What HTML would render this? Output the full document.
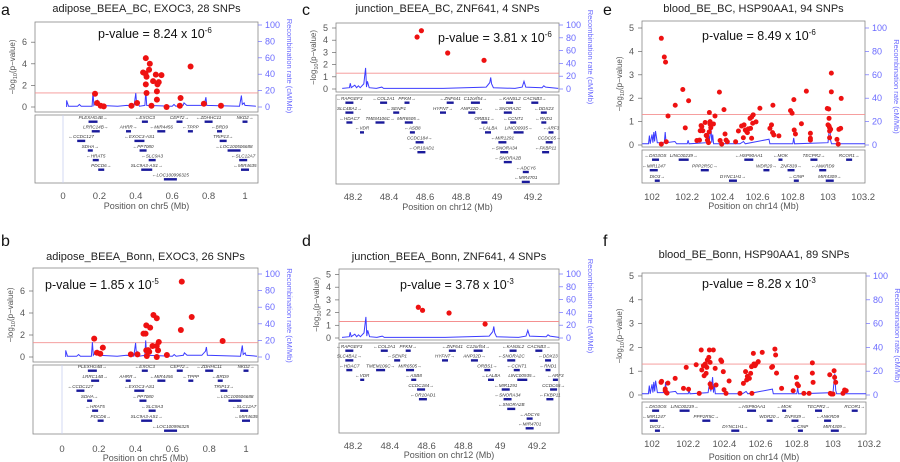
<!DOCTYPE html>
<html><head><meta charset="utf-8">
<style>
html,body{margin:0;padding:0;background:#fff;}
svg{display:block;font-family:"Liberation Sans",sans-serif;}
</style></head>
<body>
<svg id="fig" width="900" height="462" viewBox="0 0 900 462"></svg>
<script>
// ---------- DATA ----------
const chr5Ticks=[0,0.2,0.4,0.6,0.8,1];
const chr12Ticks=[48.2,48.4,48.6,48.8,49,49.2];
const chr14Ticks=[102,102.2,102.4,102.6,102.8,103,103.2];
const chr12TickLabels=["48.2","48.4","48.6","48.8","49","49.2"];
const chr14TickLabels=["102","102.2","102.4","102.6","102.8","103","103.2"];
const chr5TickLabels=["0","0.2","0.4","0.6","0.8","1"];

const aPos=[0.176,0.187,0.207,0.224,0.376,0.407,0.455,0.440,0.453,0.459,0.455,0.459,0.477,0.473,0.495,0.510,0.519,0.526,0.541,0.516,0.516,0.486,0.569,0.642,0.646,0.701,0.774,0.868];
const aLogP=[1.23,0.37,0.12,0.06,0.12,0.37,4.52,3.2,3.1,2.8,2.1,1.3,4.0,3.45,2.4,3.0,2.1,2.3,2.95,1.45,0.68,0.12,0.0,0.12,0.83,3.75,0.30,0.12];

const bPos=[0.175,0.19,0.208,0.222,0.374,0.41,0.443,0.454,0.458,0.479,0.497,0.515,0.458,0.461,0.474,0.492,0.515,0.522,0.526,0.515,0.57,0.646,0.705,0.651,0.873,0.468];
const bLogP=[1.67,0.39,0.3,0.85,0.24,0.24,2.12,2.12,2.88,2.67,3.82,3.52,0.6,0.09,0.48,1.0,1.0,0.6,1.36,0.0,0.18,2.45,3.64,6.85,1.45,0.62];

const cPos=[48.556,48.58,48.726,48.928];
const cLogP=[4.26,4.78,2.95,2.35];
const dPos=[48.555,48.578,48.722,48.918];
const dLogP=[2.42,2.18,1.97,1.1];

const ePos=[102.053,102.070,102.077,102.091,102.132,102.175,102.189,102.208,102.053,102.081,102.255,102.270,102.274,102.279,102.283,102.289,102.302,102.308,102.311,102.315,102.321,102.326,102.330,102.330,102.325,102.334,102.349,102.358,102.383,102.387,102.396,102.409,102.415,102.421,102.428,102.475,102.491,102.509,102.519,102.523,102.530,102.538,102.542,102.547,102.557,102.560,102.566,102.572,102.566,102.575,102.591,102.613,102.670,102.679,102.685,102.692,102.687,102.721,102.787,102.796,102.806,102.808,102.815,102.849,102.877,102.900,102.900,102.900,102.996,103.004,103.006,103.006,103.000,103.009,103.009,103.009,103.015,103.019,103.019,103.051,103.058,103.062,103.075,103.072];
const eLogP=[4.56,3.76,3.54,1.24,1.70,2.37,0.73,1.89,0.04,0.14,0.19,0.21,0.61,0.83,0.79,0.61,0.96,0.41,0.39,0.21,0.10,1.39,1.00,0.89,0.56,0.74,0.90,1.24,2.26,0.19,0.04,1.51,0.47,0.21,0.14,0.14,0.60,0.81,0.31,0.86,0.64,0.57,0.53,0.69,1.14,0.71,0.29,0.93,1.19,1.29,0.99,1.57,0.71,0.86,0.53,0.43,1.70,0.39,1.47,1.36,1.94,0.64,0.47,0.91,2.30,0.50,0.29,0.21,1.56,1.54,1.14,0.81,0.86,0.74,0.60,0.31,0.67,3.07,2.27,0.24,0.04,0.67,1.99,0.71];

const fPos=[102.050,102.053,102.073,102.073,102.079,102.083,102.088,102.128,102.174,102.189,102.202,102.244,102.261,102.272,102.275,102.284,102.294,102.288,102.299,102.303,102.306,102.314,102.317,102.321,102.321,102.327,102.339,102.349,102.354,102.380,102.385,102.394,102.398,102.409,102.426,102.486,102.505,102.517,102.523,102.527,102.538,102.545,102.550,102.552,102.560,102.563,102.569,102.574,102.587,102.609,102.661,102.666,102.679,102.683,102.688,102.716,102.780,102.798,102.802,102.809,102.839,102.868,102.886,102.886,102.890,102.982,102.985,102.991,103.000,103.006,103.009,103.015,103.055,103.064,103.073];
const fLogP=[0.53,0.57,0.25,0.18,0.11,0.08,0.50,0.70,0.28,1.16,0.24,1.27,0.07,1.89,1.05,1.23,1.30,0.81,0.91,1.16,1.47,1.58,1.89,1.37,0.46,0.32,1.89,1.12,0.42,1.47,1.41,0.98,0.22,0.07,0.59,0.07,0.49,0.98,0.63,0.78,0.70,0.91,1.19,0.07,1.75,1.30,1.23,1.30,1.40,1.79,1.16,1.19,1.93,1.68,0.92,0.28,0.18,0.74,0.46,0.39,0.07,0.07,1.35,0.92,0.53,0.85,0.07,0.04,0.04,1.02,0.74,0.53,0.07,0.21,0.18];

const chr5RecPos=[0.02,0.02,0.03,0.08,0.09,0.1,0.16,0.165,0.17,0.19,0.2,0.3,0.35,0.39,0.40,0.405,0.41,0.42,0.45,0.455,0.46,0.6,0.61,0.62,0.66,0.665,0.68,0.76,0.78,0.785,0.79,0.97,0.98,0.985,0.995,1.0,1.06];
const chr5RecRate=[0,8,1,1,3,1,1,18,2,8,2,1,2,1,17,2,6,1,2,20,2,1,3,1,2,5,2,2,7,12,2,1,14,3,5,2,1];
const chr12RecPos=[48.14,48.18,48.185,48.19,48.21,48.22,48.23,48.24,48.26,48.27,48.275,48.28,48.29,48.33,48.36,48.37,48.5,48.7,48.94,48.96,48.965,48.97,48.98,49.1,49.14,49.15,49.16,49.25,49.26,49.27,49.34];
const chr12RecRate=[1,2,9,2,6,2,5,2,8,33,3,12,2,1,3,1,1,1,3,10,18,8,2,1,3,12,3,2,5,3,1];
const chr14RecPos=[101.945,101.98,101.985,101.99,102.0,102.005,102.01,102.015,102.02,102.03,102.07,102.075,102.08,102.13,102.14,102.2,102.205,102.21,102.31,102.32,102.325,102.33,102.335,102.34,102.345,102.35,102.5,102.52,102.53,102.665,102.67,102.77,102.8,102.805,102.81,103.0,103.005,103.01,103.015,103.02,103.1,103.21];
const chr14RecRate=[1,1,8,1,9,2,11,3,12,2,2,11,2,3,1,1,4,1,2,12,3,8,15,2,9,1,1,3,1,5,1,1,1,6,1,2,10,18,4,1,1,1];

const chr5Genes=[["PLEXHG4B→",0.165,0],["←EXOC3",0.45,0],["CEP72→",0.64,0],["←ZDHHC11",0.80,0],["NKD2→",1.0,0],
["LRRC14B→",0.18,1],["AHRR→",0.36,1],["←MIR4456",0.54,1],["←TPPP",0.70,1],["←BRD9",0.86,1],
["←CCDC127",0.10,2],["←EXOC3-AS1",0.42,2],["TRIP13→",0.88,2],
["SDHA→",0.15,3],["←PP7080",0.44,3],["←LOC100506688",0.94,3],
["←HRAT5",0.18,4],["←SLC9A3",0.49,4],["←SLC12A7",0.99,4],
["PDCD6→",0.21,5],["SLC9A3-AS1→",0.46,5],["←MIR4635",1.0,5],
["←LOC100996325",0.59,6]];
const chr12Genes=[["←RAPGEF3",48.18,0],["←COL2A1",48.37,0],["PFKM→",48.50,0],["←ZNF641",48.74,0],["C12orf54→",48.88,0],["←KANSL2",49.07,0],["CACNB3→",49.21,0],
["SLC4BA1→",48.18,1],["←SENP1",48.44,1],["HYFNT→",48.70,1],["ANP32D→",48.86,1],["←SNORA2C",49.06,1],["←DDX23",49.26,1],
["←HDAC7",48.18,2],["TMEM106C→",48.35,2],["MIR6505→",48.51,2],["ORBS1→",48.93,2],["←CCNT1",49.09,2],["←RND1",49.26,2],
["←VDR",48.25,3],["←ASB8",48.53,3],["←LALBA",48.95,3],["LINC00935→",49.12,3],["←ARF3",49.30,3],
["CCDC184→",48.57,4],["←MIR1291",49.03,4],["CCDC65→",49.29,4],
["←OR10AD1",48.58,5],["←SNORA34",49.04,5],["←FKBP11",49.27,5],
["←SNORA2B",49.06,6],["←ADCY6",49.16,7],["←MIR4701",49.16,8]];
const chr14Genes=[["←DIO3OS",102.02,0],["LINC00239→",102.18,0],["←HSP90AA1",102.55,0],["←MOK",102.73,0],["TECPR2→",102.92,0],["RCOR1→",103.12,0],
["←MIR1247",102.01,1],["PPP2R5C→",102.30,1],["WDR20→",102.65,1],["ZNF839→",102.79,1],["←ANKRD9",102.97,1],
["DIO3→",102.03,2],["DYNC1H1→",102.46,2],["←CINP",102.82,2],["MIR4309→",103.01,2]];

// ---------- LAYOUT (pixel geometry) ----------
const panels=[
 {id:"a",letter:[1,15],title:"adipose_BEEA_BC, EXOC3, 28 SNPs",titleY:12,L:35,R:258,T:22,B:112,GB:183,xv0:0,xp0:63,xv1:1,xp1:245,y0:107,ppu:10.8,yTicks:[0,2,4,6],rTop:25,tickY:199,xlabY:209,chr:"chr5",pv:["8.24","-6"],pvX:98,pvY:38,pos:aPos,lp:aLogP,rp:chr5RecPos,rr:chr5RecRate,genes:chr5Genes,rowY0:119,rowDy:9.6,xt:chr5Ticks,xtl:chr5TickLabels,zeroLine:true,r:3},
 {id:"b",letter:[1,246],title:"adipose_BEEA_Bonn, EXOC3, 26 SNPs",titleY:260,L:33,R:258,T:268,B:362,GB:434,xv0:0,xp0:62,xv1:1,xp1:246,y0:357,ppu:11,yTicks:[0,2,4,6],rTop:274,tickY:452,xlabY:461,chr:"chr5",pv:["1.85","-5"],pvX:45,pvY:289,pos:bPos,lp:bLogP,rp:chr5RecPos,rr:chr5RecRate,genes:chr5Genes,rowY0:368,rowDy:10,xt:chr5Ticks,xtl:chr5TickLabels,zeroLine:true,r:3},
 {id:"c",letter:[302,15],title:"junction_BEEA_BC, ZNF641, 4 SNPs",titleY:12,L:336,R:559,T:23,B:92,GB:184,xv0:48.2,xp0:353,xv1:49.2,xp1:533,y0:89,ppu:12.2,yTicks:[0,1,2,3,4,5],rTop:25,tickY:200,xlabY:210,chr:"chr12",pv:["3.81","-6"],pvX:438,pvY:42,pos:cPos,lp:cLogP,rp:chr12RecPos,rr:chr12RecRate,genes:chr12Genes,rowY0:100,rowDy:9.9,xt:chr12Ticks,xtl:chr12TickLabels,zeroLine:false,r:2.6},
 {id:"d",letter:[302,246],title:"junction_BEEA_Bonn, ZNF641, 4 SNPs",titleY:260,L:339,R:559,T:269,B:340,GB:433,xv0:48.2,xp0:353,xv1:49.2,xp1:537,y0:338,ppu:12.7,yTicks:[0,1,2,3,4,5],rTop:274,tickY:449,xlabY:458,chr:"chr12",pv:["3.78","-3"],pvX:400,pvY:289,pos:dPos,lp:dLogP,rp:chr12RecPos,rr:chr12RecRate,genes:chr12Genes,rowY0:348,rowDy:9.7,xt:chr12Ticks,xtl:chr12TickLabels,zeroLine:false,r:2.6},
 {id:"e",letter:[603,15],title:"blood_BE_BC, HSP90AA1, 94 SNPs",titleY:12,L:642,R:865,T:21,B:147,GB:183,xv0:102,xp0:652,xv1:103,xp1:828,y0:145,ppu:23.4,yTicks:[0,1,2,3,4,5],rTop:28,tickY:200,xlabY:209,chr:"chr14",pv:["8.49","-6"],pvX:702,pvY:40,pos:ePos,lp:eLogP,rp:chr14RecPos,rr:chr14RecRate,genes:chr14Genes,rowY0:157,rowDy:10.5,xt:chr14Ticks,xtl:chr14TickLabels,zeroLine:false,r:2.5},
 {id:"f",letter:[603,246],title:"blood_BE_Bonn, HSP90AA1, 89 SNPs",titleY:258,L:642,R:866,T:273,B:399,GB:434,xv0:102,xp0:652,xv1:103,xp1:833,y0:395,ppu:23.8,yTicks:[0,1,2,3,4,5],rTop:276,tickY:447,xlabY:460,chr:"chr14",pv:["8.28","-3"],pvX:702,pvY:288,pos:fPos,lp:fLogP,rp:chr14RecPos,rr:chr14RecRate,genes:chr14Genes,rowY0:408,rowDy:10,xt:chr14Ticks,xtl:chr14TickLabels,zeroLine:false,r:2.5}
];

const NS="http://www.w3.org/2000/svg";
const svg=document.getElementById("fig");
function mk(parent,tag,attrs,text){const e=document.createElementNS(NS,tag);for(const k in attrs)e.setAttribute(k,attrs[k]);if(text!==undefined)e.textContent=text;parent.appendChild(e);return e;}

panels.forEach(p=>{
  const g=mk(svg,"g",{});
  
  
  const xs=v=>p.xp0+(v-p.xv0)*(p.xp1-p.xp0)/(p.xv1-p.xv0);
  const ys=v=>p.y0-v*p.ppu;
  const rs=v=>p.y0-v*(p.y0-p.rTop)/100;

  const let_=mk(g,"text",{x:p.letter[0],y:p.letter[1],"font-size":16,fill:"#111"},p.id);
  
  
  const cx=(p.L+p.R)/2;
  const t=mk(g,"text",{x:cx,y:p.titleY,"font-size":11,"text-anchor":"middle",fill:"#222"},p.title);
  
  

  const box=mk(g,"rect",{x:p.L,y:p.T,width:p.R-p.L,height:p.B-p.T,fill:"none",stroke:"#888","stroke-width":0.8});
  
  
  const gb=mk(g,"rect",{x:p.L,y:p.B+3,width:p.R-p.L,height:p.GB-p.B-3,fill:"none",stroke:"#888","stroke-width":0.8});
  
  
  if(p.zeroLine){
    const zl=mk(g,"line",{x1:xs(0),x2:xs(0),y1:p.B+3,y2:p.GB,stroke:"#c8d0f0","stroke-width":0.8});
    
    
  }

  p.yTicks.forEach(v=>{
    const tk=mk(g,"line",{x1:p.L-4,x2:p.L,y1:ys(v),y2:ys(v),stroke:"#666","stroke-width":0.7});
    
    
    const tl=mk(g,"text",{x:p.L-8,y:ys(v)+3,"font-size":9,"text-anchor":"end",fill:"#555"},String(v));
    
    
  });
  const yt=mk(g,"text",{x:0,y:0,"font-size":8,"text-anchor":"middle",fill:"#555",transform:`translate(${p.L-20},${(p.T+p.B)/2}) rotate(-90)`});
  
  
  yt.innerHTML='−log<tspan font-size="5.5" dy="2">10</tspan><tspan dy="-2">(p−value)</tspan>';

  [0,20,40,60,80,100].forEach(v=>{
    const tk=mk(g,"line",{x1:p.R,x2:p.R+4,y1:rs(v),y2:rs(v),stroke:"#7070ff","stroke-width":0.7});
    
    
    const tl=mk(g,"text",{x:p.R+7,y:rs(v)+3,"font-size":9,fill:"#6a6aff"},String(v));
    
    
  });
  const rt=mk(g,"text",{x:0,y:0,"font-size":7.5,"text-anchor":"middle",fill:"#6a6aff",transform:`translate(${p.R+29},${(p.rTop+p.y0)/2}) rotate(90)`},"Recombination rate (cM/Mb)");
  
  

  const sl=mk(g,"line",{x1:p.L,x2:p.R,y1:ys(1.3),y2:ys(1.3),stroke:"#f49090","stroke-width":0.9});
  
  

  let d="";
  p.rp.forEach((v,i)=>{const X=Math.max(p.L,Math.min(p.R,xs(v)));d+=(i?"L":"M")+X.toFixed(1)+","+rs(p.rr[i]).toFixed(1);});
  const rl=mk(g,"path",{d:d,fill:"none",stroke:"#3c3cff","stroke-width":1});
  
  

  p.pos.forEach((v,i)=>{
    const c=mk(g,"circle",{cx:xs(v),cy:ys(p.lp[i]),r:p.r,fill:"#ee1111"});
    
    
  });

  const pv=mk(g,"text",{x:p.pvX,y:p.pvY,"font-size":12.5,fill:"#111"});
  
  
  pv.innerHTML=`p-value = ${p.pv[0]} x 10<tspan font-size="8" dy="-5">${p.pv[1]}</tspan>`;

  p.genes.forEach(gn=>{
    const X=xs(gn[1]);const Y=p.rowY0+gn[2]*p.rowDy;
    if(X<p.L-5||X>p.R+5)return;
    const tx=mk(g,"text",{x:X,y:Y,"font-size":4.6,"font-style":"italic","text-anchor":"middle",fill:"#333"},gn[0]);
    
    
    const w=Math.max(3,gn[0].length*1.0);
    const bar=mk(g,"rect",{x:X-w/2,y:Y+1.5,width:w,height:2.4,fill:"#1a1a9a"});
    
    
  });

  p.xt.forEach((v,i)=>{
    const tl=mk(g,"text",{x:xs(v),y:p.tickY,"font-size":9.5,"text-anchor":"middle",fill:"#555"},p.xtl[i]);
    
    
  });
  const xl=mk(g,"text",{x:cx,y:p.xlabY,"font-size":9,"text-anchor":"middle",fill:"#555"},`Position on ${p.chr} (Mb)`);
  
  
});
</script>
</body></html>
